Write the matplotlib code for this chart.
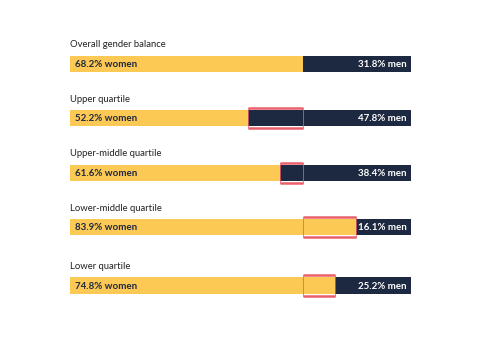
import matplotlib.pyplot as plt
from matplotlib.patches import Rectangle

plt.rcParams['font.family'] = ['Lato', 'DejaVu Sans']

categories = ["Overall gender balance", "Upper quartile", "Upper-middle quartile",
              "Lower-middle quartile", "Lower quartile"]
women = [68.2, 52.2, 61.6, 83.9, 74.8]
men = [31.8, 47.8, 38.4, 16.1, 25.2]
# split point as drawn in the picture (the last bar is drawn a bit past its label)
women_drawn = [68.2, 52.2, 61.6, 83.9, 77.7]

yellow = "#fdc955"
navy = "#1c2940"
red = "#e9606a"
text_col = "#1c2940"

# row centres (a little extra gap before the last row, as in the original)
rows = [0, 1, 2, 3, 4.07]
bar_h = 0.30
box_h = 0.37

fig = plt.figure(figsize=(5, 3.48), dpi=100)
ax = fig.add_axes([70 / 500, 0, 341 / 500, 1])
ax.set_xlim(0, 100)
ax.set_ylim(5.217, -1.169)
ax.axis("off")

men_drawn = [100 - w for w in women_drawn]
ax.barh(rows, women_drawn, height=bar_h, color=yellow, zorder=1)
ax.barh(rows, men_drawn, left=women_drawn, height=bar_h, color=navy, zorder=1)

overall = women_drawn[0]
for i, cat in enumerate(categories):
    y = rows[i]
    ax.text(0, y - 0.345, cat, ha="left", va="center", fontsize=6.8, color="#222222")
    ax.text(1.5, y + 0.01, f"{women[i]}% women", ha="left", va="center", fontsize=7,
            fontweight="bold", color=text_col, zorder=3)
    ax.text(98.8, y + 0.01, f"{men[i]}% men", ha="right", va="center", fontsize=7,
            fontweight="bold", color="white", zorder=3)
    if i > 0:
        w = women_drawn[i]
        lo, hi = min(w, overall), max(w, overall)
        ax.add_patch(Rectangle((lo, y - box_h / 2), hi - lo, box_h, fill=False,
                               edgecolor=red, lw=0.6, alpha=0.9, zorder=2))
        ax.hlines([y - box_h / 2, y + box_h / 2], lo, hi, color=red, lw=1.8, zorder=2)

fig.savefig("out.png", dpi=100, facecolor="white")
